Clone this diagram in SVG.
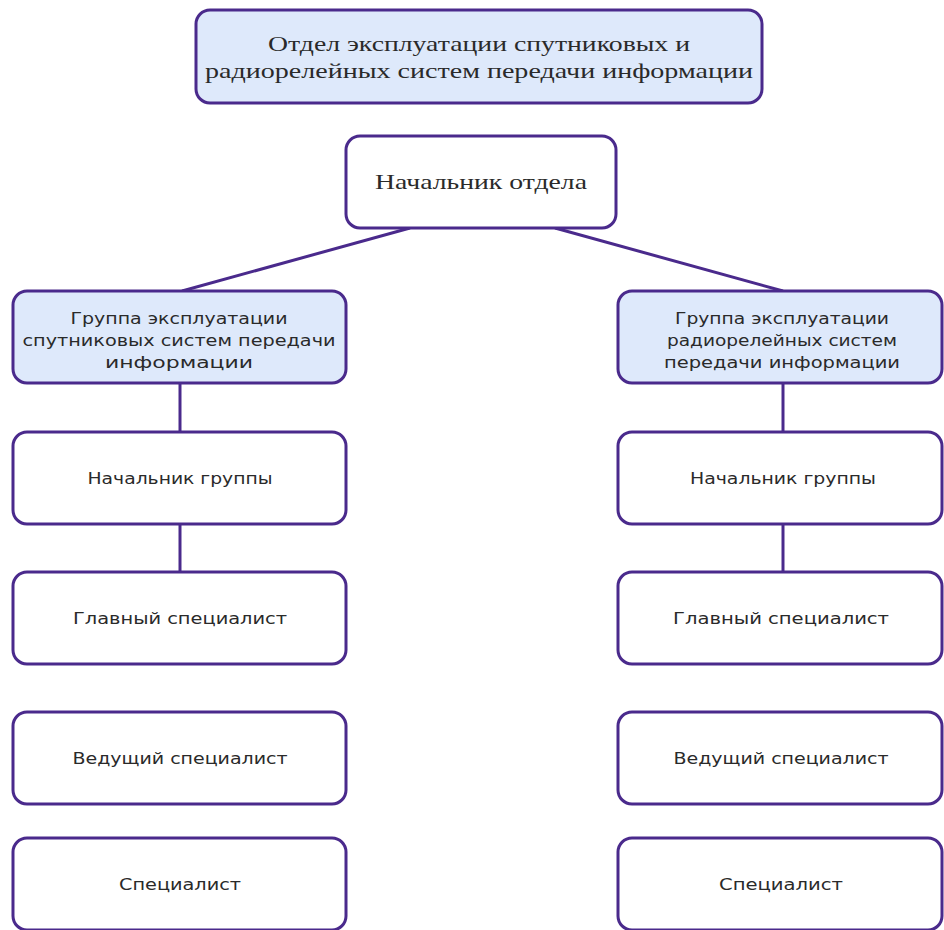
<svg xmlns="http://www.w3.org/2000/svg" width="944" height="930" viewBox="0 0 944 930">
<style>
.box{fill:#ffffff;stroke:#4a2a8c;stroke-width:3}
.blue{fill:#dee9fb}
.serif{font-family:"Liberation Serif","Times New Roman",serif;font-size:22px;fill:#2a2a2a;text-anchor:middle}
.sans{font-family:"DejaVu Sans",Verdana,sans-serif;font-size:16px;fill:#2a2a2a;text-anchor:middle}
.conn{stroke:#4a2a8c;stroke-width:3;fill:none}
</style>
<rect width="944" height="930" fill="#ffffff"/>
<g id="connectors">
<line class="conn" x1="410" y1="228" x2="182" y2="291"/>
<line class="conn" x1="555" y1="228" x2="783" y2="291"/>
<line class="conn" x1="180" y1="383" x2="180" y2="432"/>
<line class="conn" x1="180" y1="524" x2="180" y2="572"/>
<line class="conn" x1="783" y1="383" x2="783" y2="432"/>
<line class="conn" x1="783" y1="524" x2="783" y2="572"/>
</g>
<g id="dept">
<rect class="box blue" x="196" y="10" width="566" height="93" rx="14"/>
<text class="serif" x="479" y="51" textLength="422" lengthAdjust="spacingAndGlyphs">Отдел эксплуатации спутниковых и</text>
<text class="serif" x="479" y="78" textLength="548" lengthAdjust="spacingAndGlyphs">радиорелейных систем передачи информации</text>
</g>
<g id="head">
<rect class="box" x="346" y="136" width="270" height="92" rx="14"/>
<text class="serif" x="481" y="189" textLength="212" lengthAdjust="spacingAndGlyphs">Начальник отдела</text>
</g>
<g id="groupL">
<rect class="box blue" x="13" y="291" width="333" height="92" rx="14"/>
<text class="sans" x="179" y="324" textLength="217" lengthAdjust="spacingAndGlyphs">Группа эксплуатации</text>
<text class="sans" x="179" y="346" textLength="313" lengthAdjust="spacingAndGlyphs">спутниковых систем передачи</text>
<text class="sans" x="179" y="368" textLength="148" lengthAdjust="spacingAndGlyphs">информации</text>
</g>
<g id="groupR">
<rect class="box blue" x="618" y="291" width="324" height="92" rx="14"/>
<text class="sans" x="782" y="324" textLength="214" lengthAdjust="spacingAndGlyphs">Группа эксплуатации</text>
<text class="sans" x="782" y="346" textLength="230" lengthAdjust="spacingAndGlyphs">радиорелейных систем</text>
<text class="sans" x="782" y="368" textLength="236" lengthAdjust="spacingAndGlyphs">передачи информации</text>
</g>
<g id="chiefL">
<rect class="box" x="13" y="432" width="333" height="92" rx="14"/>
<text class="sans" x="180" y="484" textLength="185" lengthAdjust="spacingAndGlyphs">Начальник группы</text>
</g>
<g id="mainL">
<rect class="box" x="13" y="572" width="333" height="92" rx="14"/>
<text class="sans" x="180" y="624" textLength="214" lengthAdjust="spacingAndGlyphs">Главный специалист</text>
</g>
<g id="leadL">
<rect class="box" x="13" y="712" width="333" height="92" rx="14"/>
<text class="sans" x="180" y="764" textLength="215" lengthAdjust="spacingAndGlyphs">Ведущий специалист</text>
</g>
<g id="specL">
<rect class="box" x="13" y="838" width="333" height="92" rx="14"/>
<text class="sans" x="180" y="890" textLength="122" lengthAdjust="spacingAndGlyphs">Специалист</text>
</g>
<g id="chiefR">
<rect class="box" x="618" y="432" width="324" height="92" rx="14"/>
<text class="sans" x="783" y="484" textLength="186" lengthAdjust="spacingAndGlyphs">Начальник группы</text>
</g>
<g id="mainR">
<rect class="box" x="618" y="572" width="324" height="92" rx="14"/>
<text class="sans" x="781" y="624" textLength="216" lengthAdjust="spacingAndGlyphs">Главный специалист</text>
</g>
<g id="leadR">
<rect class="box" x="618" y="712" width="324" height="92" rx="14"/>
<text class="sans" x="781" y="764" textLength="215" lengthAdjust="spacingAndGlyphs">Ведущий специалист</text>
</g>
<g id="specR">
<rect class="box" x="618" y="838" width="324" height="92" rx="14"/>
<text class="sans" x="781" y="890" textLength="124" lengthAdjust="spacingAndGlyphs">Специалист</text>
</g>
</svg>
